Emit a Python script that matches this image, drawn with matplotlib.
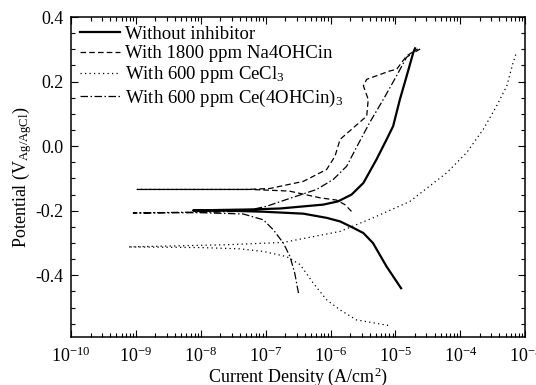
import matplotlib
matplotlib.use("Agg")
import matplotlib.pyplot as plt
from matplotlib.ticker import LogLocator, MultipleLocator, FormatStrFormatter, NullFormatter

plt.rcParams["font.family"] = ["Liberation Serif", "DejaVu Serif"]
plt.rcParams["mathtext.fontset"] = "custom"
plt.rcParams["mathtext.rm"] = "Liberation Serif"
plt.rcParams["mathtext.it"] = "Liberation Serif"
plt.rcParams["axes.unicode_minus"] = False

# Tafel curves: current density (A/cm2) and potential (V vs Ag/AgCl)
# each branch starts at the corrosion potential and runs outward

# without inhibitor
blank_cath_i = [7.6e-9, 2.8e-8, 9.2e-8, 3.8e-7, 8.7e-7, 1.4e-6, 2.24e-6, 3.2e-6, 4.5e-6, 7.3e-6, 1.22e-5]
blank_cath_e = [-0.199, -0.200, -0.203, -0.209, -0.222, -0.233, -0.253, -0.269, -0.300, -0.373, -0.440]
blank_anod_i = [7.6e-9, 5.7e-8, 1.66e-7, 7.7e-7, 1.3e-6, 2.1e-6, 3.2e-6, 5.1e-6, 7.3e-6, 9.2e-6,
                1.17e-5, 1.49e-5, 1.88e-5, 2.0e-5]
blank_anod_e = [-0.198, -0.196, -0.193, -0.181, -0.171, -0.150, -0.114, -0.041, 0.021, 0.062,
                0.145, 0.218, 0.290, 0.303]

# 1800 ppm Na4OHCin
na_cath_i = [1.05e-9, 5.8e-8, 2.3e-7, 6.9e-7, 1.24e-6, 1.66e-6, 2.1e-6]
na_cath_e = [-0.134, -0.134, -0.139, -0.160, -0.167, -0.181, -0.202]
na_anod_i = [1.05e-9, 5.1e-8, 1.16e-7, 3.8e-7, 8.7e-7, 1.17e-6, 1.4e-6, 2.24e-6, 3.6e-6, 3.8e-6,
             3.2e-6, 3.6e-6, 8.2e-6, 1.04e-5, 1.49e-5, 2.2e-5]
na_anod_e = [-0.134, -0.134, -0.131, -0.109, -0.072, -0.031, 0.021, 0.057, 0.093, 0.145,
             0.187, 0.207, 0.233, 0.238, 0.280, 0.301]

# 600 ppm CeCl3
cecl_cath_i = [7.6e-10, 9.7e-9, 4.0e-8, 9.2e-8, 2.1e-7, 3.4e-7, 5.4e-7, 8.7e-7, 1.4e-6, 2.5e-6, 7.7e-6]
cecl_cath_e = [-0.312, -0.314, -0.318, -0.326, -0.342, -0.367, -0.424, -0.476, -0.507, -0.538, -0.555]
cecl_anod_i = [7.6e-10, 2.8e-8, 1.87e-7, 1.4e-6, 4.5e-6, 1.67e-5, 6.2e-5, 1.25e-4, 2.25e-4, 3.6e-4,
               5.2e-4, 6.5e-4, 7.4e-4]
cecl_anod_e = [-0.312, -0.305, -0.298, -0.264, -0.222, -0.171, -0.082, -0.020, 0.052, 0.124,
               0.187, 0.259, 0.293]

# 600 ppm Ce(4OHCin)3
ce_cath_i = [9.1e-10, 9.7e-9, 4.5e-8, 9.2e-8, 1.31e-7, 1.87e-7, 2.37e-7, 2.8e-7, 3.2e-7]
ce_cath_e = [-0.207, -0.206, -0.210, -0.228, -0.259, -0.300, -0.342, -0.393, -0.455]
ce_anod_i = [9.1e-10, 4.5e-8, 1.04e-7, 2.1e-7, 3.4e-7, 6.1e-7, 1.1e-6, 1.77e-6, 2.5e-6, 4.0e-6,
             6.5e-6, 1.04e-5, 1.49e-5, 2.4e-5]
ce_anod_e = [-0.207, -0.202, -0.186, -0.165, -0.151, -0.134, -0.103, -0.062, -0.004, 0.073,
             0.145, 0.218, 0.276, 0.301]

labels = ["Without inhibitor", "With 1800 ppm Na4OHCin",
          "With 600 ppm CeCl$_3$", "With 600 ppm Ce(4OHCin)$_3$"]


def sweep(cath_i, cath_e, anod_i, anod_e):
    # cathodic end -> Ecorr -> anodic end, like the potentiodynamic scan
    return cath_i[::-1] + anod_i[1:], cath_e[::-1] + anod_e[1:]


curves = [
    (sweep(blank_cath_i, blank_cath_e, blank_anod_i, blank_anod_e), "-", 1.6),
    (sweep(na_cath_i, na_cath_e, na_anod_i, na_anod_e), (0, (4.5, 2.5)), 0.9),
    (sweep(cecl_cath_i, cecl_cath_e, cecl_anod_i, cecl_anod_e), (0, (1, 2.6)), 0.9),
    (sweep(ce_cath_i, ce_cath_e, ce_anod_i, ce_anod_e), (0, (6, 2, 1.2, 2)), 0.9),
]

fig = plt.figure(figsize=(5.36, 3.85), dpi=100)
ax = fig.add_axes([0.1325, 0.1255, 0.8475, 0.8303])

for ((x, y), ls, lw), lab in zip(curves, labels):
    ax.plot(x, y, color="black", linestyle=ls, linewidth=lw, label=lab)

ax.set_xscale("log")
ax.set_xlim(1e-10, 1e-3)
ax.set_ylim(-0.59, 0.4)
ax.xaxis.set_major_locator(LogLocator(base=10, numticks=20))
ax.xaxis.set_minor_locator(LogLocator(base=10, subs=range(2, 10), numticks=20))
ax.xaxis.set_minor_formatter(NullFormatter())
ax.yaxis.set_major_locator(MultipleLocator(0.2))
ax.yaxis.set_minor_locator(MultipleLocator(0.05))
ax.yaxis.set_major_formatter(FormatStrFormatter("%.1f"))

ax.tick_params(which="both", direction="in", top=True, right=True, labelsize=13, width=0.8)
ax.tick_params(which="major", length=5)
ax.tick_params(which="minor", length=3)
ax.tick_params(axis="x", pad=7.5)
ax.tick_params(axis="y", pad=5.5)
for s in ax.spines.values():
    s.set_linewidth(1.1)

ax.set_xlabel("Current Density (A/cm$^2$)", fontsize=13, labelpad=-1)
ax.set_ylabel(r"Potential (V$_\mathrm{Ag/AgCl}$)", fontsize=13, labelpad=1)

ax.legend(loc="upper left", bbox_to_anchor=(0.02, 0.973), frameon=False, fontsize=13.5,
          handlelength=2.15, handletextpad=0.27, labelspacing=0.12, borderaxespad=0,
          borderpad=0)

fig.savefig("out.png", dpi=100)
plt.close(fig)
